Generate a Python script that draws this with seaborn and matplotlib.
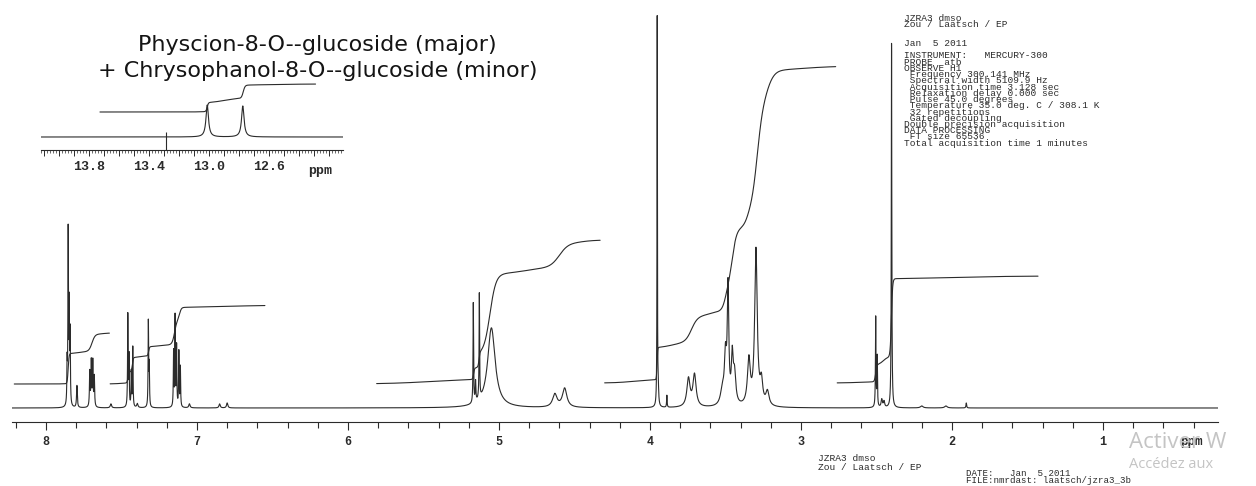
import numpy as np
import pandas as pd
import seaborn as sns
import matplotlib
matplotlib.use('Agg')
import matplotlib.pyplot as plt
from matplotlib.ticker import MultipleLocator, FuncFormatter

# 1H lines of the main spectrum: shift (ppm), height, line width (ppm)
peak_ppm = [7.860, 7.853, 7.846, 7.840, 7.795,
            7.710, 7.700, 7.690, 7.680, 7.57,
            7.458, 7.450, 7.435, 7.425, 7.395,
            7.322, 7.316, 7.155, 7.145, 7.135, 7.120, 7.110,
            7.05, 6.85, 6.80,
            5.170, 5.155, 5.130, 5.05, 4.63, 4.565,
            3.952, 3.945, 3.888, 3.745, 3.705,
            3.520, 3.500, 3.483, 3.455, 3.440, 3.345, 3.298, 3.262, 3.222,
            2.505, 2.495, 2.465, 2.450, 2.400, 2.20, 2.04, 1.905]
peak_height = [40, 172, 95, 70, 22,
               35, 45, 45, 30, 4,
               92, 50, 35, 60, 4,
               85, 40, 55, 90, 60, 55, 40,
               4, 4, 5,
               100, 20, 105, 80, 13, 19,
               390, 15, 12, 28, 32,
               15, 45, 115, 45, 30, 45, 156, 22, 14,
               90, 50, 8, 6, 365, 2, 2, 5]
peak_fwhm = [0.004, 0.004, 0.004, 0.004, 0.006,
             0.005, 0.005, 0.005, 0.005, 0.01,
             0.004, 0.004, 0.004, 0.004, 0.01,
             0.004, 0.004, 0.004, 0.004, 0.004, 0.004, 0.004,
             0.01, 0.01, 0.01,
             0.004, 0.005, 0.004, 0.06, 0.035, 0.035,
             0.003, 0.006, 0.004, 0.025, 0.025,
             0.03, 0.016, 0.012, 0.014, 0.02, 0.022, 0.02, 0.02, 0.025,
             0.004, 0.004, 0.01, 0.01, 0.004, 0.02, 0.02, 0.005]

# integral traces: range and starting level of each segment
int_start = [8.21, 7.575, 5.81, 4.30, 2.76]
int_end = [7.58, 6.55, 4.33, 2.77, 1.43]
int_base = [24, 24, 24, 25, 25]
# steps of the integral traces: segment, centre, rise, width
step_seg = [0, 0, 0, 0,
            1, 1, 1, 1, 1, 1, 1, 1, 1,
            2, 2, 2, 2, 2, 2, 2,
            3, 3, 3, 3, 3, 3, 3, 3, 3, 3, 3,
            4, 4, 4, 4, 4]
step_ppm = [7.853, 7.78, 7.695, 7.62,
            7.50, 7.457, 7.428, 7.38, 7.32, 7.24, 7.148, 7.115, 6.85,
            5.45, 5.168, 5.132, 5.06, 4.82, 4.60, 4.45,
            4.12, 3.953, 3.85, 3.725, 3.60, 3.500, 3.455, 3.355, 3.29, 3.22, 3.0,
            2.62, 2.505, 2.455, 2.401, 2.0]
step_rise = [30, 3, 17, 1,
             1, 11, 14, 2, 9, 2, 25, 12, 3,
             5, 11, 14, 80, 7, 24, 3,
             3, 32, 6, 25, 7, 22, 60, 15, 110, 32, 5,
             1, 17, 8, 78, 3]
step_w = [0.003, 0.04, 0.01, 0.02,
          0.03, 0.003, 0.003, 0.03, 0.003, 0.04, 0.008, 0.006, 0.2,
          0.15, 0.003, 0.003, 0.02, 0.08, 0.03, 0.05,
          0.06, 0.002, 0.05, 0.02, 0.05, 0.012, 0.015, 0.015, 0.02, 0.025, 0.12,
          0.05, 0.004, 0.015, 0.004, 0.2]

# inset (12-14 ppm, OH signals)
inset_ppm = [13.012, 12.775]
inset_height = [32, 31]
inset_fwhm = [0.02, 0.02]
inset_int_range = (13.727, 12.29)
inset_int_base = 25
inset_step_ppm = [13.012, 12.90, 12.772, 12.55]
inset_step_rise = [9, 5, 13, 1]
inset_step_w = [0.004, 0.05, 0.006, 0.1]
inset_marker = 13.29
inset_labels = [13.8, 13.4, 13.0, 12.6]

title_lines = ['Physcion-8-O--glucoside (major)',
               '+ Chrysophanol-8-O--glucoside (minor)']
info_lines = ['JZRA3 dmso', 'Zou / Laatsch / EP', '', '', 'Jan  5 2011', '',
              'INSTRUMENT:   MERCURY-300', 'PROBE  atb', 'OBSERVE H1',
              ' Frequency 300.141 MHz', ' Spectral width 5109.9 Hz',
              ' Acquisition time 3.128 sec', ' Relaxation delay 0.000 sec',
              ' Pulse 45.0 degrees', ' Temperature 35.0 deg. C / 308.1 K',
              ' 32 repetitions', ' Gated decoupling',
              'Double precision acquisition', 'DATA PROCESSING',
              ' FT size 65536', 'Total acquisition time 1 minutes']
sample_lines = ['JZRA3 dmso', 'Zou / Laatsch / EP']
file_lines = ['DATE:   Jan  5 2011', 'FILE:nmrdast: laatsch/jzra3_3b']

W, H = 1256, 486
ink = '#2b2b2b'
mono = 'Liberation Mono'

sns.set_theme(style='white')
plt.rcParams['font.family'] = ['Liberation Sans', 'DejaVu Sans']


def lorentz_sum(x, centres, heights, widths):
    y = np.zeros_like(x)
    for c, h, w in zip(centres, heights, widths):
        g = (w / 2) ** 2
        y += h * g / ((x - c) ** 2 + g)
    return y


def steps(x, base, centres, rises, widths):
    y = np.full_like(x, float(base))
    for c, r, w in zip(centres, rises, widths):
        y += r / (1 + np.exp(np.clip((x - c) / w, -60, 60)))
    return y


def box(x0, x1, ytop, ybot):
    return [x0 / W, 1 - ybot / H, (x1 - x0) / W, (ybot - ytop) / H]


fig = plt.figure(figsize=(W / 100, H / 100), dpi=100)

# ---- main spectrum ----
ax = fig.add_axes(box(12, 1218, 10, 422))
ppm = np.linspace(8.225, 0.238, 40001)
spec = pd.DataFrame({'ppm': ppm,
                     'I': lorentz_sum(ppm, peak_ppm, peak_height, peak_fwhm)})
sns.lineplot(data=spec, x='ppm', y='I', ax=ax, estimator=None, sort=False,
             color=ink, lw=0.8)
for k in range(len(int_start)):
    xs = np.linspace(int_start[k], int_end[k], 1500)
    sel = [i for i, s in enumerate(step_seg) if s == k]
    ys = steps(xs, int_base[k], [step_ppm[i] for i in sel],
               [step_rise[i] for i in sel], [step_w[i] for i in sel])
    sns.lineplot(x=xs, y=ys, ax=ax, estimator=None, sort=False, color=ink, lw=0.8)

ax.set_xlim(8.225, 0.238)
ax.set_ylim(-14, 398)
ax.set(xlabel='', ylabel='')
for s in ['top', 'left', 'right']:
    ax.spines[s].set_visible(False)
ax.spines['bottom'].set_color(ink)
ax.spines['bottom'].set_linewidth(0.8)
ax.set_yticks([])
ax.xaxis.set_major_locator(MultipleLocator(1))
ax.xaxis.set_minor_locator(MultipleLocator(0.2))
ax.xaxis.set_major_formatter(FuncFormatter(lambda v, p: '%d' % round(v)))
ax.tick_params(axis='x', which='major', direction='out', length=6, width=0.8,
               color=ink, pad=4, labelsize=8.5, labelcolor=ink, bottom=True)
ax.tick_params(axis='x', which='minor', direction='out', length=4, width=0.8,
               color=ink, bottom=True)
for lab in ax.get_xticklabels():
    lab.set_fontfamily(mono)
    lab.set_fontweight('bold')
ax.text(0.415, -0.035, 'ppm', transform=ax.get_xaxis_transform(), ha='center',
        va='top', family=mono, weight='bold', fontsize=9, color=ink, zorder=5)

# ---- inset ----
axi = fig.add_axes(box(41, 343, 80, 150))
xi = np.linspace(14.12, 12.107, 6000)
sns.lineplot(x=xi, y=lorentz_sum(xi, inset_ppm, inset_height, inset_fwhm),
             ax=axi, estimator=None, sort=False, color=ink, lw=0.8)
xii = np.linspace(inset_int_range[0], inset_int_range[1], 800)
sns.lineplot(x=xii, y=steps(xii, inset_int_base, inset_step_ppm,
                            inset_step_rise, inset_step_w),
             ax=axi, estimator=None, sort=False, color=ink, lw=0.8)
axi.vlines(inset_marker, -13, 5, color=ink, lw=0.8)
axi.set_xlim(14.12, 12.107)
axi.set_ylim(-13, 57)
axi.set(xlabel='', ylabel='')
axi.patch.set_alpha(0)
for s in ['top', 'left', 'right']:
    axi.spines[s].set_visible(False)
axi.spines['bottom'].set_color(ink)
axi.spines['bottom'].set_linewidth(0.8)
axi.set_yticks([])
axi.xaxis.set_major_locator(MultipleLocator(0.1))
axi.xaxis.set_minor_locator(MultipleLocator(0.02))
axi.xaxis.set_major_formatter(FuncFormatter(
    lambda v, p: '%.1f' % v if any(abs(v - l) < 1e-6 for l in inset_labels) else ''))
axi.tick_params(axis='x', which='major', direction='out', length=4, width=0.7,
                color=ink, pad=4, labelsize=9.5, labelcolor=ink, bottom=True)
axi.tick_params(axis='x', which='minor', direction='out', length=2, width=0.5,
                color=ink, bottom=True)
for lab in axi.get_xticklabels():
    lab.set_fontfamily(mono)
    lab.set_fontweight('bold')
axi.text(12.26, -0.22, 'ppm', transform=axi.get_xaxis_transform(), ha='center',
         va='top', family=mono, weight='bold', fontsize=9.5, color=ink)

# ---- texts ----
fig.text(317 / W, 1 - 45 / H, title_lines[0], ha='center', va='center',
         family='DejaVu Sans', fontsize=16, color='#141414')
fig.text(318 / W, 1 - 71 / H, title_lines[1], ha='center', va='center',
         family='DejaVu Sans', fontsize=16, color='#141414')

fig.text(904 / W, 1 - 14 / H, '\n'.join(info_lines), family=mono, fontsize=6.8,
         color=ink, va='top', linespacing=0.605)
fig.text(818 / W, 1 - 454 / H, '\n'.join(sample_lines), family=mono,
         fontsize=6.8, color=ink, va='top', linespacing=1.0)
fig.text(966 / W, 1 - 469 / H, '\n'.join(file_lines), family=mono,
         fontsize=6.6, color=ink, va='top', linespacing=0.78)

fig.text(1129 / W, 1 - 442 / H, 'Activer W', family='Open Sans',
         fontsize=16, color='#c4c4c4', va='center', zorder=1)
fig.text(1129 / W, 1 - 464 / H, 'Accédez aux', family='Open Sans',
         fontsize=10.5, color='#c4c4c4', va='center')

fig.savefig('out.png', dpi=100, facecolor='white')
